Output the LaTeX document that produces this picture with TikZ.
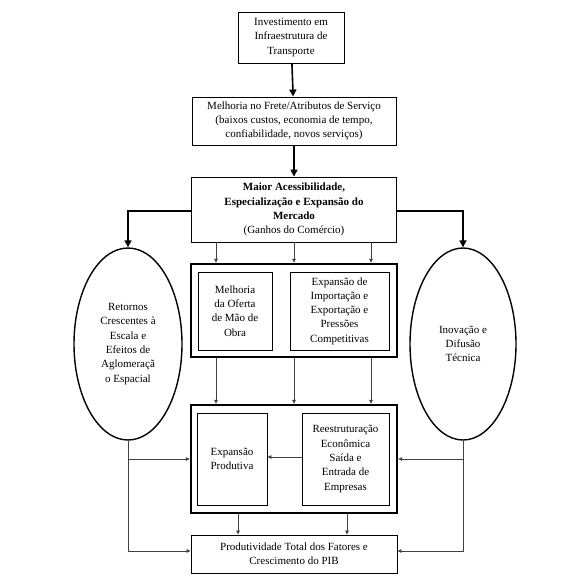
\documentclass[tikz,border=0pt]{standalone}
\usepackage{fontspec}
\setmainfont{Liberation Serif}
\usetikzlibrary{arrows.meta,shapes.geometric}

\tikzset{
  box/.style={draw,line width=0.9pt,align=center,inner sep=1pt,font=\fontsize{11}{14.3}\selectfont},
  group/.style={draw,line width=2.4pt,inner sep=0pt},
  oval/.style={draw,ellipse,line width=1.4pt,align=center,inner sep=0pt,font=\fontsize{11}{14.3}\selectfont},
  thick arrow/.style={line width=1.6pt,-{Triangle[length=7pt,width=7pt]}},
  thin arrow/.style={line width=0.7pt,black!75,-{Triangle[length=4pt,width=3.5pt]}},
}

\begin{document}
\begin{tikzpicture}[x=1pt,y=-1pt]
\useasboundingbox (0,0) rectangle (586,584);

% top column
\node[box,minimum width=106pt,minimum height=51pt] (invest) at (291,37.5)
  {Investimento em\\Infraestrutura de\\Transporte};
\node[box,minimum width=204pt,minimum height=48pt] (frete) at (294,121)
  {Melhoria no Frete/Atributos de Servi\c{c}o\\(baixos custos, economia de tempo,\\confiabilidade, novos servi\c{c}os)};
\node[box,minimum width=205pt,minimum height=65pt] (acess) at (294,209.5)
  {\textbf{Maior Acessibilidade,}\\\textbf{Especializa\c{c}\~ao e Expans\~ao do}\\\textbf{Mercado}\\(Ganhos do Com\'ercio)};

% first group
\node[group,minimum width=206pt,minimum height=93pt] (grpA) at (294,310.5) {};
\node[box,minimum width=74pt,minimum height=78pt] (mao) at (235,311)
  {Melhoria\\da Oferta\\de M\~ao de\\Obra};
\node[box,minimum width=99pt,minimum height=78pt] (import) at (339.5,311)
  {Expans\~ao de\\Importa\c{c}\~ao e\\Exporta\c{c}\~ao e\\Press\~oes\\Competitivas};

% second group
\node[group,minimum width=206pt,minimum height=108pt] (grpB) at (294,459) {};
\node[box,minimum width=70pt,minimum height=92pt] (prod) at (232,459)
  {Expans\~ao\\Produtiva};
\node[box,minimum width=87pt,minimum height=92pt] (reest) at (345.5,459)
  {Reestrutura\c{c}\~ao\\Econ\^omica\\Sa\'ida e\\Entrada de\\Empresas};

\node[box,minimum width=206pt,minimum height=38pt] (ptf) at (294,554)
  {Produtividade Total dos Fatores e\\Crescimento do PIB};

% side ovals
\node[oval,minimum width=108pt,minimum height=192pt] (retornos) at (128,344)
  {Retornos\\Crescentes \`a\\Escala e\\Efeitos de\\Aglomera\c{c}\~a\\o Espacial};
\node[oval,minimum width=106pt,minimum height=192pt] (inovacao) at (463,344)
  {Inova\c{c}\~ao e\\Difus\~ao\\T\'ecnica};

% thick connectors
\draw[thick arrow] (invest) -- (frete);
\draw[thick arrow] (frete) -- (acess);
\draw[thick arrow] ([yshift=-1.5pt]acess.west) -| (retornos.north);
\draw[thick arrow] ([yshift=-1.5pt]acess.east) -| (inovacao.north);

% thin connectors
\foreach \dx in {-78,0,77}{
  \draw[thin arrow] ([xshift=\dx pt]acess.south) -- ([xshift=\dx pt]grpA.north);
  \draw[thin arrow] ([xshift=\dx pt]grpA.south) -- ([xshift=\dx pt]grpB.north);
}
\draw[thin arrow] ([xshift=-56pt]grpB.south) -- ([xshift=-56pt]ptf.north);
\draw[thin arrow] ([xshift=53pt]grpB.south) -- ([xshift=53pt]ptf.north);
\draw[thin arrow] ([yshift=2pt]reest.west) -- ([yshift=2pt]prod.east);

\draw[thin arrow] (retornos.south) |- (grpB.west);
\draw[thin arrow] (retornos.south) |- ([yshift=3pt]ptf.west);
\draw[thin arrow] (inovacao.south) |- (grpB.east);
\draw[thin arrow] (inovacao.south) |- ([yshift=3pt]ptf.east);
\end{tikzpicture}
\end{document}
